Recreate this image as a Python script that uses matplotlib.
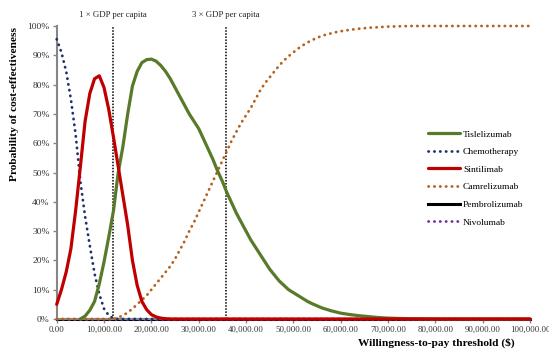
import matplotlib
matplotlib.use('Agg')
import matplotlib.pyplot as plt

plt.rcParams['font.family'] = ['Liberation Serif', 'DejaVu Serif']

# willingness-to-pay thresholds (thousands of $) and probabilities (%) per strategy
chemo_k = [0, 1, 2, 3, 4, 5, 6, 7, 8, 9, 10, 11, 12, 13, 100]
chemo = [95.5, 91, 84.5, 75, 63, 47, 35, 25, 15.5, 8.5, 3.5, 1.2, 0.2, 0, 0]

sinti_k = [0, 1, 2, 3, 4, 5, 6, 7, 8, 9, 10, 11, 12, 13, 14, 15, 16, 17, 18, 19,
           20, 21, 22, 23, 24, 100]
sinti = [5, 10, 16, 24, 37, 52, 67.5, 77, 82, 83, 79, 71.5, 62, 52, 42, 32, 20, 11.5, 6, 3.2,
         1.5, 0.7, 0.3, 0.1, 0, 0]

tisle_k = [5, 6, 7, 8, 9, 10, 11, 12, 13, 14, 15, 16, 17, 18, 19, 20, 21, 22, 23, 24,
           25, 26, 27, 28, 29, 30, 31, 32, 33, 34, 35, 36, 37, 38, 39, 40, 41, 42, 43, 44,
           45, 46, 47, 48, 49, 50, 51, 52, 53, 54, 55, 56, 57, 58, 59, 60,
           62, 64, 66, 68, 70, 72, 75, 80, 100]
tisle = [0, 1, 3, 6, 12, 19.5, 28, 37, 50, 59, 70, 79.5, 84.5, 87.5, 88.5, 88.7, 88, 86.5, 84.5, 82,
         79, 76, 73, 70, 67.5, 65, 61.5, 58, 54.5, 50.5, 47, 43, 39.5, 36, 33, 30, 27, 24.5, 22, 19.5,
         17, 15, 13, 11.5, 10, 9, 8, 7, 6, 5.2, 4.5, 3.8, 3.3, 2.8, 2.4, 2,
         1.5, 1.1, 0.8, 0.5, 0.3, 0.2, 0.1, 0, 0]

camre_k = [0, 12, 13, 14, 15, 16, 17, 18, 19, 20, 21, 22, 23, 24, 25, 26, 27, 28, 29, 30,
           31, 32, 33, 34, 35, 36, 37, 38, 39, 40, 41, 42, 43, 44, 45, 46, 47, 48, 49, 50,
           51, 52, 53, 54, 55, 56, 57, 58, 59, 60, 62, 64, 66, 68, 70, 75, 100]
camre = [0, 0, 0.5, 1.2, 2.2, 3.5, 5, 6.5, 8, 10, 12, 14, 16, 18, 20.5, 23.5, 26.5, 30, 33, 36.5,
         40, 43.5, 47, 50.5, 54, 57.5, 61, 64, 67, 69.5, 72, 75, 78, 80.5, 82.5, 84.5, 86.5, 88.2, 89.7, 91,
         92.3, 93.4, 94.4, 95.2, 96, 96.6, 97.1, 97.5, 97.9, 98.2, 98.7, 99.1, 99.4, 99.6, 99.8, 100, 100]

pembro_k = [0, 100]
pembro = [0, 0]
nivo_k = [0, 100]
nivo = [0, 0]

gdp_lines = [11.9, 35.8]
gdp_labels = ['1 \u00d7 GDP per capita', '3 \u00d7 GDP per capita']
x_ticks = list(range(0, 101, 10))
y_ticks = list(range(0, 101, 10))

fig = plt.figure(figsize=(5.49, 3.52), dpi=100)
ax = fig.add_axes([56.7 / 549, 1 - 319 / 352, (530 - 56.7) / 549, (319 - 26) / 352])

dot = dict(linestyle=(0, (0.1, 2.0)), dash_capstyle='round', lw=2.0, clip_on=False)

def k(vals):
    return [v * 1000 for v in vals]

h_pem, = ax.plot(k(pembro_k), pembro, color='black', lw=2.2, zorder=2, clip_on=False)
h_niv, = ax.plot(k(nivo_k), nivo, color='#7030A0', zorder=2.1, **dot)
h_che, = ax.plot(k(chemo_k), chemo, color='#1F2F6B', zorder=3, **dot)
h_cam, = ax.plot(k(camre_k), camre, color='#B8601A', zorder=3.1, **dot)
h_tis, = ax.plot(k(tisle_k), tisle, color='#587A2A', lw=2.3, zorder=4, clip_on=False,
                 solid_capstyle='round')
h_sin, = ax.plot(k(sinti_k), sinti, color='#C00000', lw=2.3, zorder=5, clip_on=False,
                 solid_capstyle='round')

for g, lab in zip(gdp_lines, gdp_labels):
    ax.axvline(g * 1000, ymin=0, ymax=1, color='black', lw=1.1, linestyle=(0, (1, 1)), zorder=1.5)
    ax.text(g * 1000, 1.0 + 11 / 293, lab, transform=ax.get_xaxis_transform(),
            ha='center', va='center', fontsize=6.3, color='#222222')

ax.set_xlim(0, 100000)
ax.set_ylim(0, 100)
ax.set_xticks([t * 1000 for t in x_ticks])
ax.set_xticklabels([f'{t * 1000:,.2f}' for t in x_ticks])
ax.set_yticks(y_ticks)
ax.set_yticklabels([f'{t}%' for t in y_ticks])
ax.tick_params(axis='both', labelsize=6.8, labelcolor='#333333', color='#868686',
               length=3, width=1, direction='out', pad=2)
ax.tick_params(axis='x', labelsize=6.3)

for s in ['top', 'right']:
    ax.spines[s].set_visible(False)
for s in ['left', 'bottom']:
    ax.spines[s].set_color('#868686')
    ax.spines[s].set_linewidth(1.5)

fig.text(15 / 549, 1 - 104 / 352, 'Probability of cost-effectiveness', rotation=90,
         ha='center', va='center', fontsize=8.2, fontweight='bold')
fig.text(436 / 549, 1 - 343 / 352, 'Willingness-to-pay threshold ($)',
         ha='center', va='center', fontsize=8.2, fontweight='bold')

handles = [h_tis, h_che, h_sin, h_cam, h_pem, h_niv]
labels = ['Tislelizumab', 'Chemotherapy', 'Sintilimab', 'Camrelizumab', 'Pembrolizumab', 'Nivolumab']
fig.legend(handles, labels, loc='upper left', bbox_to_anchor=(428 / 549, 1 - 130 / 352),
           frameon=False, fontsize=6.8, handlelength=3.4, handletextpad=0.3,
           labelspacing=0.95, borderpad=0, borderaxespad=0)

fig.savefig('out.png', dpi=100)
